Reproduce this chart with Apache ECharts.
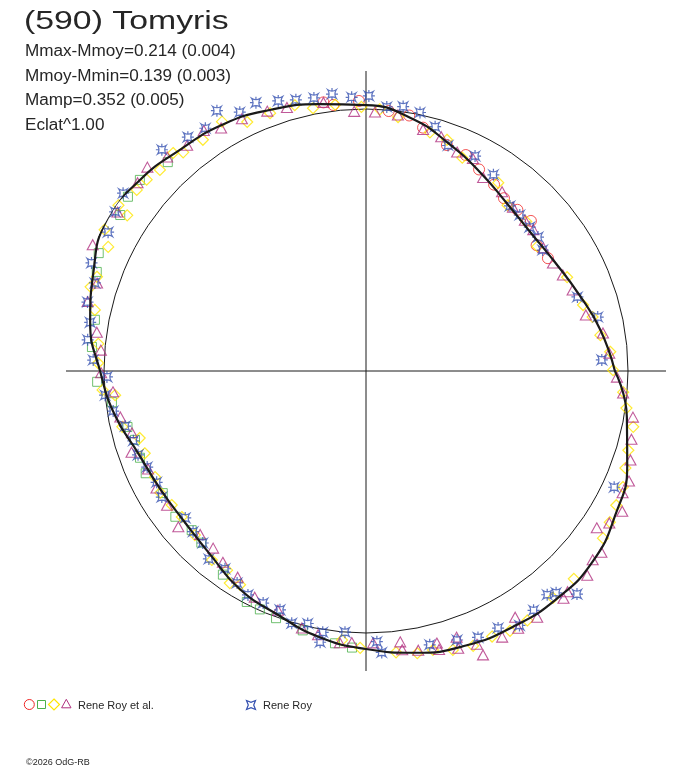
<!DOCTYPE html>
<html>
<head>
<meta charset="utf-8">
<script src="https://cdn.jsdelivr.net/npm/echarts@6/dist/echarts.min.js"></script>
<style>html,body{margin:0;padding:0;background:#fff}#c{width:688px;height:768px}</style>
</head>
<body>
<div id="c"></div>
<script>
// ---- data (angle in degrees, counter-clockwise from the right; radius relative to the mean circle = 1) ----
const TITLE = '(590) Tomyris';
const INFO_LINES = ['Mmax-Mmoy=0.214 (0.004)', 'Mmoy-Mmin=0.139 (0.003)', 'Mamp=0.352 (0.005)', 'Eclat^1.00'];
const LEGEND_GROUP1 = 'Rene Roy et al.';
const LEGEND_GROUP2 = 'Rene Roy';
const COPYRIGHT = '\u00a92026 OdG-RB';
const REF_RADIUS = 1;

const FIT_ANGLE = [0,10,20,30,40,50,60,70,80,90,100,110,120,130,140,150,160,170,180,190,200,210,220,230,240,250,260,270,280,290,300,310,320,330,340,350,360];
const FIT_RADIUS = [0.950,0.908,0.863,0.832,0.821,0.836,0.874,0.924,0.981,1.015,1.034,1.061,1.088,1.103,1.130,1.145,1.107,1.069,1.015,0.973,0.924,0.905,0.901,0.920,0.962,0.989,1.031,1.061,1.092,1.115,1.126,1.134,1.130,1.099,1.061,1.011,0.950];

const RED_CIRCLE = [[99,1.038],[97,1.023],[91.5,1.031],[85,0.996],[80.4,0.989],[76.8,0.954],[70.3,0.916],[65.2,0.908],[60.7,0.882],[55.5,0.863],[51.4,0.844],[46.8,0.844],[42.3,0.851],[36.4,0.809],[31.8,0.817]];

const GREEN_SQUARE = [[133.5,1.099],[139.8,1.130],[143.8,1.126],[147.6,1.111],[156.2,1.115],[159.8,1.095],[169.3,1.053],[175,1.050],[182.3,1.027],[187,0.977],[193.2,0.935],[196.6,0.920],[201,0.924],[204.9,0.927],[211,0.905],[217.4,0.916],[222.4,0.901],[226.2,0.908],[234.9,0.950],[242.7,0.992],[246,0.996],[250,1.004],[256.3,1.019],[263.5,1.046],[267.1,1.057]];

const YELLOW_DIAMOND = [[125.2,1.080],[120,1.099],[115.5,1.053],[110.4,1.050],[105,1.050],[101.4,1.023],[96.6,1.023],[91,1.008],[87,1.000],[82.8,0.977],[75,0.943],[70.7,0.935],[65.7,0.893],[54.9,0.878],[49.5,0.832],[43,0.836],[36,0.809],[25,0.847],[16.9,0.866],[13.4,0.889],[8.7,0.905],[4.5,0.935],[0.2,0.943],
[355.3,0.985],[351.9,1.004],[348.2,1.042],[343.2,1.046],[339.5,1.057],[335.7,1.076],[331.8,1.084],[328.2,1.095],[324.8,1.107],[315,1.122],[309.5,1.122],[302.9,1.134],[299,1.134],[295.4,1.122],[291.3,1.126],[287.3,1.115],[283.5,1.095],[280.3,1.095],[276.1,1.080],[268.8,1.057],[264.9,1.031],
[239.5,0.947],[237.3,0.962],[235.1,0.927],[230.8,0.931],[223.8,0.905],[218.4,0.897],[214.6,0.901],[210.6,0.912],[206.7,0.901],[200.4,0.901],[196.5,0.901],[192.9,0.954],[185.5,0.962],[184.1,1.008],[178.3,1.023],[174.2,1.027],[167.3,1.061],[163,1.099],[160.7,1.088],[154.3,1.092],[151.6,1.134],[146.9,1.088],[146.2,1.137],[141.7,1.115],[138.9,1.111],[135.7,1.099],[131.5,1.111],[129.9,1.088]];

const MAGENTA_TRIANGLE = [[124,1.107],[120.8,1.080],[116.2,1.073],[110.8,1.061],[106.7,1.050],[99,1.038],[92.6,0.992],[88,0.989],[82.9,0.985],[76.7,0.947],[72.2,0.939],[67.4,0.905],[63.3,0.908],[58.8,0.863],[52.8,0.859],[48.1,0.840],[43.5,0.836],[40.2,0.836],[34.8,0.824],[30,0.824],[26,0.836],[21.4,0.847],[14.3,0.866],[9.1,0.916],[4.2,0.931],
[358.6,0.958],[355.1,0.985],[350.2,1.034],[345.6,1.046],[341.4,1.065],[337.3,1.088],[334.6,1.084],[331.3,1.115],[328,1.095],[325.8,1.065],[322.4,1.134],[320.2,1.126],[317.3,1.149],[312.4,1.141],[311,1.149],[304.8,1.145],[301.2,1.099],[300.6,1.141],[297.1,1.141],[292.4,1.172],[292.1,1.126],[288.4,1.115],[288.8,1.073],
[284.7,1.099],[284.6,1.073],[280.6,1.084],[277.4,1.073],[277.2,1.042],[271.5,1.038],[267,1.038],[264.5,1.042],[259.7,1.023],[256,1.011],[249.8,0.973],[243.8,0.962],
[238.1,0.927],[233.2,0.912],[229.2,0.893],[224.6,0.889],[219.7,0.931],[214,0.916],[209.2,0.916],[204.2,0.912],[199.1,0.947],[194.8,0.924],[190.6,0.954],[184.7,0.969],[180.4,1.011],[175.5,1.015],[171.8,1.038],[166,1.095],[161.9,1.080],[155.2,1.149],[147.4,1.126],[140.5,1.130],[137,1.141],[132.9,1.115],[128.4,1.099]];

const BLUE_STAR = [[123.5,1.111],[119.8,1.145],[116,1.099],[112.3,1.107],[108,1.084],[104.5,1.069],[100.8,1.061],[97,1.065],[93,1.046],[89.4,1.050],[85.5,1.011],[82,1.019],[78.2,1.008],[74.2,0.969],[70,0.916],[63.1,0.920],[57,0.893],[48.9,0.836],[45.4,0.836],[41.3,0.832],[37.9,0.832],[34.4,0.817],[19.3,0.855],[13.1,0.908],[2.7,0.901],
[334.9,1.046],[313.4,1.172],[310.6,1.115],[309,1.099],[305,1.115],[301.1,1.134],[297.2,1.103],[292.8,1.103],[288.7,1.084],[283.1,1.073],[273.2,1.076],[272.3,1.034],[265.4,1.000],[260.6,1.011],[260.4,1.050],[257,0.989],[253.6,1.004],[250.2,0.969],[246.1,0.969],[242.2,0.966],[238.7,0.947],
[234.5,0.927],[230.1,0.935],[226.5,0.905],[222.9,0.901],[219.1,0.889],[211.7,0.916],[208,0.905],[203.7,0.912],[200.2,0.927],[196.7,0.927],[192.9,0.943],[189,0.977],[185.3,1.000],[181.3,0.989],[177.7,1.042],[173.6,1.069],[170,1.069],[166.1,1.095],[162,1.088],[158.5,1.126],[151.7,1.118],[147.6,1.134],[143.8,1.149],[132.7,1.149],[127.3,1.122]];

// ---- styling ----
const C_RED = '#f02828', C_GREEN = '#4cb04c', C_YELLOW = '#ffe600', C_MAG = '#b0307f', C_BLUE = '#3450b0';
const INK = '#1a1a1a', TXT = '#262626';
const FONT = '"Liberation Sans", Arial, sans-serif';
const STAR_D = 'M0,0 Q5,3.2 10,0 Q6.8,5 10,10 Q5,6.8 0,10 Q3.2,5 0,0 Z M5,-2 L5,1.6 M5,8.4 L5,12 M-2,5 L1.6,5 M8.4,5 L12,5';

const toPolar = arr => arr.map(p => [p[1], p[0]]);

function scatter(name, data, symbol, size, color, lw) {
  return {
    type: 'scatter', coordinateSystem: 'polar', name: name,
    data: toPolar(data), symbol: symbol, symbolSize: size, clip: false,
    itemStyle: { color: 'rgba(0,0,0,0)', borderColor: color, borderWidth: lw || 1 },
    emphasis: { disabled: true }, silent: true
  };
}

const chart = echarts.init(document.getElementById('c'), null, { renderer: 'canvas' });
const option = {
  animation: false,
  backgroundColor: '#fff',
  polar: { center: [366, 371], radius: 300 },
  angleAxis: {
    type: 'value', min: 0, max: 360, interval: 90, startAngle: 0, clockwise: false,
    axisLine: { show: false }, axisTick: { show: false }, axisLabel: { show: false },
    splitLine: { show: true, lineStyle: { color: INK, width: 1 } }
  },
  radiusAxis: {
    type: 'value', min: 0, max: 300 / 262, interval: REF_RADIUS,
    axisLine: { show: false }, axisTick: { show: false }, axisLabel: { show: false },
    // only the circle at the reference radius (tick 1) is visible
    splitLine: { show: true, lineStyle: { color: ['rgba(0,0,0,0)', INK, 'rgba(0,0,0,0)'], width: 1 } }
  },
  series: [
    scatter(LEGEND_GROUP1, RED_CIRCLE, 'circle', 11, C_RED),
    scatter(LEGEND_GROUP1 + ' 2', GREEN_SQUARE, 'rect', 9, C_GREEN),
    scatter(LEGEND_GROUP1 + ' 3', YELLOW_DIAMOND, 'diamond', [11, 11], C_YELLOW, 1.2),
    scatter(LEGEND_GROUP1 + ' 4', MAGENTA_TRIANGLE, 'triangle', [11, 10], C_MAG, 1.1),
    scatter(LEGEND_GROUP2, BLUE_STAR, 'path://' + STAR_D, 12, C_BLUE, 1.2),
    {
      type: 'line', coordinateSystem: 'polar', name: 'fit',
      data: FIT_ANGLE.map((a, i) => [FIT_RADIUS[i], a]), smooth: 0.5, showSymbol: false,
      lineStyle: { color: INK, width: 2.2 }, silent: true, z: 3
    }
  ],
  graphic: [
    { type: 'text', x: 24, y: 22, scaleX: 1.3, style: { text: TITLE, font: '26px ' + FONT, fill: TXT, verticalAlign: 'middle' } },
    ...INFO_LINES.map((t, i) => ({
      type: 'text', x: 25, y: 51.5 + i * 24.6, scaleX: 1.07,
      style: { text: t, font: '16px ' + FONT, fill: TXT, verticalAlign: 'middle' }
    })),
    { type: 'circle', shape: { cx: 29.3, cy: 704.5, r: 5 }, style: { fill: 'none', stroke: C_RED, lineWidth: 1 } },
    { type: 'rect', shape: { x: 37.5, y: 700.5, width: 8, height: 8 }, style: { fill: 'none', stroke: C_GREEN, lineWidth: 1 } },
    { type: 'polygon', shape: { points: [[54, 699], [59.5, 704.5], [54, 710], [48.5, 704.5]] }, style: { fill: 'none', stroke: C_YELLOW, lineWidth: 1.2 } },
    { type: 'polygon', shape: { points: [[66.3, 699.3], [71, 707.8], [61.6, 707.8]] }, style: { fill: 'none', stroke: C_MAG, lineWidth: 1 } },
    { type: 'text', x: 78, y: 706, scaleX: 1.1, style: { text: LEGEND_GROUP1, font: '10px ' + FONT, fill: TXT, verticalAlign: 'middle' } },
    { type: 'polygon', shape: { points: [[246.5, 700.5], [251, 702.3], [255.5, 700.5], [253.7, 705], [255.5, 709.5], [251, 707.7], [246.5, 709.5], [248.3, 705]] }, style: { fill: 'none', stroke: C_BLUE, lineWidth: 1.2 } },
    { type: 'text', x: 263, y: 706, scaleX: 1.1, style: { text: LEGEND_GROUP2, font: '10px ' + FONT, fill: TXT, verticalAlign: 'middle' } },
    { type: 'text', x: 26, y: 763, style: { text: COPYRIGHT, font: '9px ' + FONT, fill: TXT, verticalAlign: 'middle' } }
  ]
};
chart.setOption(option);
</script>
</body>
</html>
